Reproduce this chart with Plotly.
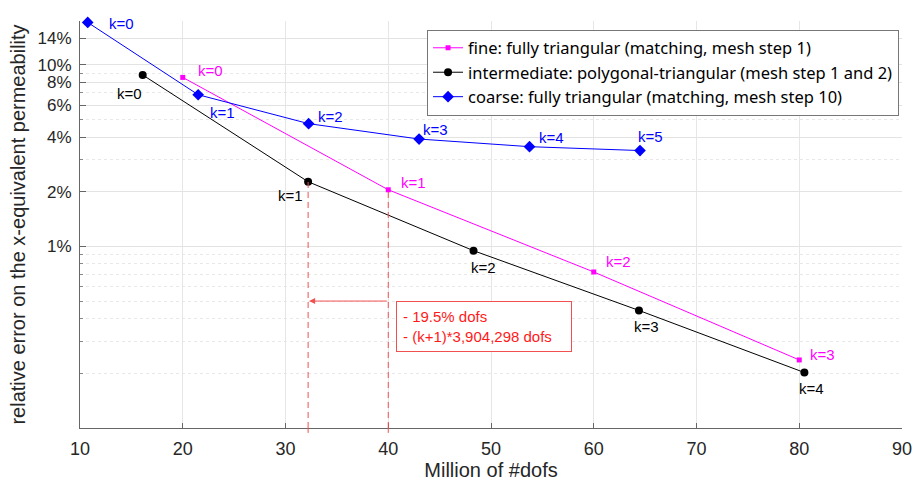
import numpy as np
import plotly.graph_objects as go

# ---------------- data ----------------
fine_x = [20, 40, 60, 80]
fine_y = [8.52, 2.05, 0.723, 0.237]            # relative error in %
inter_x = [16.1, 32.2, 48.3, 64.4, 80.5]
inter_y = [8.79, 2.27, 0.947, 0.444, 0.202]
coarse_x = [10.75, 21.5, 32.25, 43.0, 53.75, 64.5]
coarse_y = [17.1, 6.84, 4.74, 3.90, 3.54, 3.37]

fine_name = "fine: fully triangular (matching, mesh step 1)"
inter_name = "intermediate: polygonal-triangular (mesh step 1 and 2)"
coarse_name = "coarse: fully triangular (matching, mesh step 10)"

y_tickvals = [1, 2, 4, 6, 8, 10, 14]
y_ticktext = ["1%", "2%", "4%", "6%", "8%", "10%", "14%"]
y_minor = [0.2, 0.3, 0.4, 0.5, 0.6, 0.7, 0.8, 0.9, 3, 5, 7, 9]
x_ticks = [10, 20, 30, 40, 50, 60, 70, 80, 90]

arrow_level = 0.5        # % level of the arrow
box_lines = ["- 19.5% dofs", "- (k+1)*3,904,298 dofs"]

# label offsets (px, screen: dx right, dy down)
fine_off = [(28, -7), (25, -7), (25, -10), (23, -5)]
inter_off = [(-13, 19), (-18, 14), (10, 17), (8, 16), (7, 16)]
coarse_off = [(34, 1), (24, 18), (22, -7), (16, -10), (22, -9), (11, -14)]

FONT = "Liberation Sans, Arial, sans-serif"
LEG_FONT = "Noto Sans, Liberation Sans, Arial, sans-serif"
BLUE = "#0000ff"
MAG = "#ff00ff"
BLK = "#000000"
RED = "#ff1a1a"
RED_L = "#f05050"

fig = go.Figure()
fig.add_trace(go.Scatter(x=fine_x, y=fine_y, mode="lines+markers", name=fine_name,
                         line=dict(color=MAG, width=1),
                         marker=dict(symbol="square", size=5, color=MAG), cliponaxis=False))
fig.add_trace(go.Scatter(x=inter_x, y=inter_y, mode="lines+markers", name=inter_name,
                         line=dict(color=BLK, width=1),
                         marker=dict(symbol="circle", size=8, color=BLK), cliponaxis=False))
fig.add_trace(go.Scatter(x=coarse_x, y=coarse_y, mode="lines+markers", name=coarse_name,
                         line=dict(color=BLUE, width=1),
                         marker=dict(symbol="diamond", size=9, color=BLUE), cliponaxis=False))

ann = []
for xs, ys, offs, col in [(fine_x, fine_y, fine_off, MAG),
                          (inter_x, inter_y, inter_off, BLK),
                          (coarse_x, coarse_y, coarse_off, BLUE)]:
    for k, (xv, yv, (dx, dy)) in enumerate(zip(xs, ys, offs)):
        ann.append(dict(x=xv, y=np.log10(yv), xref="x", yref="y", text=f"k={k}",
                        showarrow=False, xanchor="center", yanchor="middle",
                        xshift=dx, yshift=-dy, font=dict(family=FONT, size=15, color=col)))

# arrow from fine k=1 to intermediate k=1 dof count
ann.append(dict(x=inter_x[1], y=np.log10(arrow_level), ax=fine_x[1], ay=np.log10(arrow_level),
                xref="x", yref="y", axref="x", ayref="y", text="", showarrow=True,
                arrowhead=2, arrowsize=1.2, arrowwidth=1, arrowcolor=RED_L, standoff=1))
# text box
ann.append(dict(x=fine_x[1], y=np.log10(arrow_level), xref="x", yref="y",
                text="<br>".join(box_lines), showarrow=False, xanchor="left", yanchor="top",
                xshift=8, align="left", bordercolor=RED_L, borderwidth=1, borderpad=6,
                width=162, bgcolor="white",
                font=dict(family=FONT, size=15, color=RED)))

ymin_log, ymax_log = -1, 1.241
shapes = []
for xv, yv in [(inter_x[1], inter_y[1]), (fine_x[1], fine_y[1])]:
    shapes.append(dict(type="line", xref="x", yref="y", x0=xv, x1=xv, y0=10 ** ymin_log, y1=yv,
                       line=dict(color=RED_L, width=1, dash="6px,4px"), layer="above"))
    shapes.append(dict(type="line", xref="x", yref="paper", x0=xv, x1=xv, y0=-0.012, y1=0,
                       line=dict(color=RED_L, width=1), layer="above"))

fig.update_layout(
    width=915, height=489,
    margin=dict(l=80, r=13, t=21, b=61, autoexpand=False),
    paper_bgcolor="white", plot_bgcolor="white",
    font=dict(family=FONT, color="#262626"),
    showlegend=True,
    legend=dict(x=0.9964, y=0.979, xanchor="right", yanchor="top",
                bgcolor="white", bordercolor="#777777", borderwidth=1,
                font=dict(family=LEG_FONT, size=16.5, color="#000000"),
                itemwidth=30, tracegroupgap=0),
    annotations=ann,
    shapes=shapes,
)
fig.update_xaxes(range=[10, 90], tickvals=x_ticks, ticks="inside", ticklen=5,
                 tickcolor="#666666", showline=True, linecolor="#666666", linewidth=1,
                 showgrid=True, gridcolor="#e6e6e6", zeroline=False, automargin=False,
                 tickfont=dict(family=FONT, size=18, color="#262626"),
                 ticklabelstandoff=4,
                 title=dict(text="Million of #dofs", font=dict(family=FONT, size=20, color="#262626"),
                            standoff=4))
fig.update_yaxes(type="log", range=[ymin_log, ymax_log], tickvals=y_tickvals, ticktext=y_ticktext,
                 ticks="inside", ticklen=6, tickcolor="#666666", automargin=False,
                 showline=True, linecolor="#666666", linewidth=1,
                 showgrid=True, gridcolor="#e3e3e3", zeroline=False,
                 tickfont=dict(family=FONT, size=17, color="#262626"),
                 ticklabelstandoff=4,
                 minor=dict(tickmode="array", tickvals=y_minor, ticks="inside", ticklen=3,
                            tickcolor="#888888", showgrid=True, gridcolor="#e8e8e8", griddash="dot"),
                 title=dict(text="relative error on the x-equivalent permeability",
                            font=dict(family=FONT, size=20, color="#262626"), standoff=6))

fig.write_html("out.html", config={"displayModeBar": False},
               post_script="document.body.style.margin='0';document.body.style.overflow='hidden';")
